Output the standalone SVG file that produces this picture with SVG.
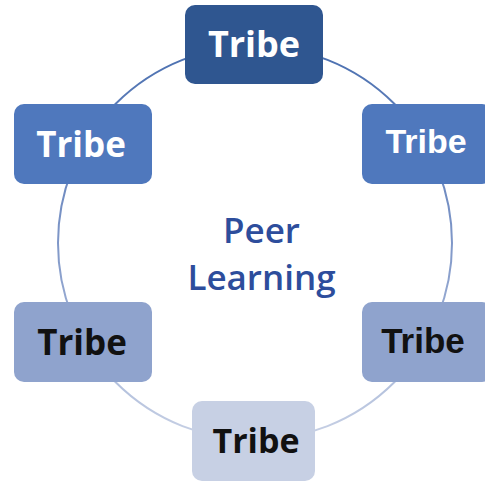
<svg xmlns="http://www.w3.org/2000/svg" width="485" height="482" viewBox="0 0 485 482">
<style>
.box{stroke:none}
.t{font-family:"Open Sans","Liberation Sans",sans-serif;font-weight:700;text-anchor:middle}
.a{font-family:"Liberation Sans",Arial,sans-serif;font-weight:700;text-anchor:middle}
.w{fill:#ffffff}
.k{fill:#111111}
.center{font-family:"Open Sans","Liberation Sans",sans-serif;font-weight:600;font-size:35px;fill:#2d4d9c;text-anchor:middle}
</style>
<defs>
<linearGradient id="ring" x1="0" y1="0" x2="0" y2="1">
<stop offset="0" stop-color="#4a6fb0"/>
<stop offset="0.5" stop-color="#7f97c8"/>
<stop offset="1" stop-color="#c8d1e5"/>
</linearGradient>
</defs>
<rect width="485" height="482" fill="#ffffff"/>
<g id="connectors">
<circle cx="255" cy="243" r="197" fill="none" stroke="url(#ring)" stroke-width="2"/>
</g>
<g id="tribe-top">
<rect class="box" x="185" y="5" width="138" height="79" rx="10" fill="#2f5690"/>
<text class="t w" x="254" y="57" font-size="36">Tribe</text>
</g>
<g id="tribe-upper-right">
<rect class="box" x="362" y="104" width="130" height="80" rx="10" fill="#4f78bd"/>
<text class="a w" x="426" y="153" font-size="34">Tribe</text>
</g>
<g id="tribe-upper-left">
<rect class="box" x="14" y="104" width="138" height="80" rx="10" fill="#4f78bd"/>
<text class="t w" x="81" y="157" font-size="35">Tribe</text>
</g>
<g id="tribe-lower-left">
<rect class="box" x="14" y="302" width="138" height="80" rx="10" fill="#8fa3cd"/>
<text class="t k" x="82" y="355" font-size="35">Tribe</text>
</g>
<g id="tribe-lower-right">
<rect class="box" x="362" y="302" width="130" height="80" rx="10" fill="#8fa3cd"/>
<text class="a k" x="423" y="353" font-size="35">Tribe</text>
</g>
<g id="tribe-bottom">
<rect class="box" x="192" y="401" width="123" height="80" rx="10" fill="#c7d0e4"/>
<text class="t k" x="256" y="453" font-size="34">Tribe</text>
</g>
<g id="center-label">
<text class="center" x="261.5" y="243">Peer</text>
<text class="center" x="261.5" y="290">Learning</text>
</g>
</svg>
